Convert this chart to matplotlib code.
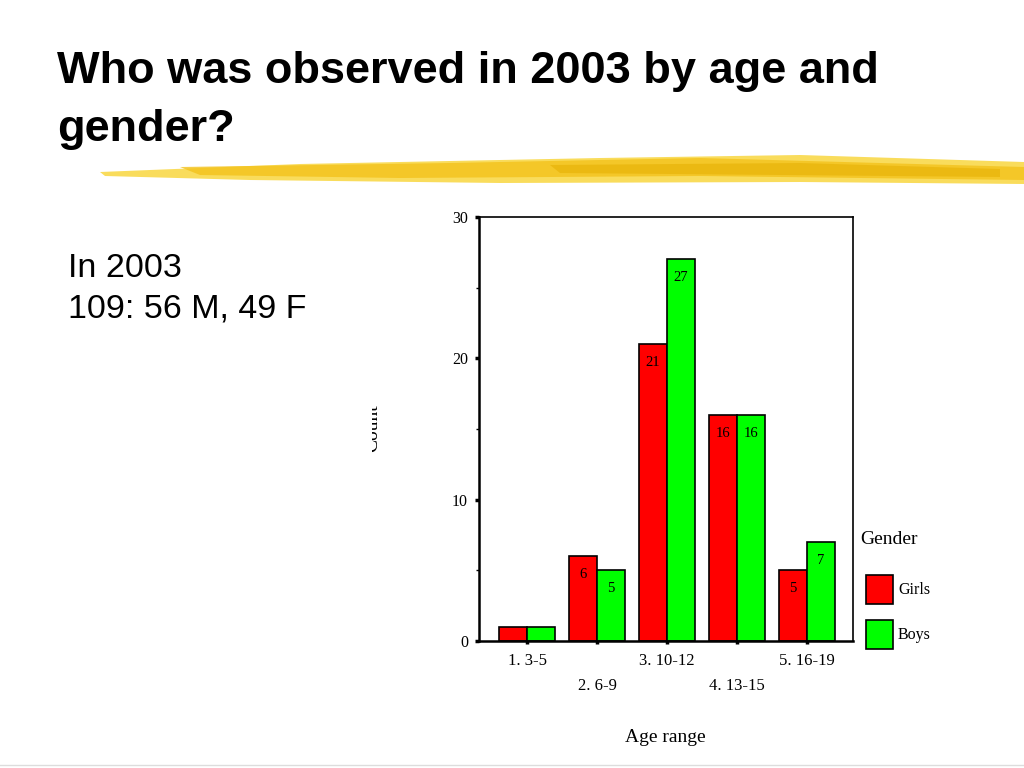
import numpy as np
import matplotlib.pyplot as plt
from matplotlib.patches import Polygon, Rectangle

# Datos del gráfico
age_ranges = ['1. 3-5', '2. 6-9', '3. 10-12', '4. 13-15', '5. 16-19']
girls = [1, 6, 21, 16, 5]
boys = [1, 5, 27, 16, 7]
series_names = ['Girls', 'Boys']
colors = ['#ff0000', '#00ff00']

serif = ['Liberation Serif', 'DejaVu Serif']
sans = ['Liberation Sans', 'DejaVu Sans']

fig = plt.figure(figsize=(10.24, 7.68), dpi=100)

# Título de la diapositiva
fig.text(57 / 1024, 1 - 51 / 768, 'Who was observed in 2003 by age and\ngender?',
         family=sans, fontsize=32.5, fontweight='bold', va='top', ha='left',
         linespacing=1.53)

# Trazo amarillo decorativo bajo el título
ov = fig.add_axes([0, 0, 1, 1], zorder=-1)
ov.set_xlim(0, 1024)
ov.set_ylim(768, 0)
ov.axis('off')
strokes = [
    ([(100, 172), (300, 164), (600, 158), (800, 155), (1024, 162),
      (1024, 184), (800, 182), (500, 183), (250, 180), (105, 176)], '#f9d94a', 0.9),
    ([(180, 167), (450, 163), (700, 158), (1024, 167), (1024, 180),
      (700, 176), (400, 178), (200, 175)], '#f3c21c', 0.8),
    ([(550, 165), (800, 163), (1000, 169), (1000, 177), (780, 175), (560, 173)],
     '#e8b40a', 0.7),
]
for pts, c, a in strokes:
    ov.add_patch(Polygon(pts, closed=True, facecolor=c, edgecolor='none', alpha=a))
ov.plot([0, 1024], [765, 765], color='#dddddd', lw=1)

# Etiqueta del eje Y, cortada como en la diapositiva
ov.text(373, 428, 'Count', family=serif, fontsize=14, rotation=90,
        ha='center', va='center')

# Texto descriptivo
fig.text(68 / 1024, 1 - 289 / 768, 'In 2003\n109: 56 M, 49 F', family=sans,
         fontsize=24.5, va='center', ha='left', linespacing=1.4)

# Gráfico de barras
ax = fig.add_axes([479 / 1024, 1 - 641 / 768, 374 / 1024, 424 / 768])
x = np.arange(len(age_ranges))
w = 0.4
for i, (vals, c) in enumerate(zip([girls, boys], colors)):
    pos = x - w / 2 + i * w
    ax.bar(pos, vals, width=w, color=c, edgecolor='black', linewidth=1.2,
           label=series_names[i])
    for p, v in zip(pos, vals):
        if v > 2:
            ax.text(p, v - 1.3, str(v), ha='center', va='center',
                    family=serif, fontsize=10.5)

ax.set_xlim(-0.686, 4.657)
ax.set_ylim(0, 30)
ax.set_yticks([0, 10, 20, 30])
ax.set_yticks([5, 15, 25], minor=True)
ax.set_yticklabels(['0', '10', '20', '30'], family=serif, fontsize=11.5)
ax.tick_params(axis='y', which='major', direction='out', length=3, width=2.5, pad=5)
ax.tick_params(axis='y', which='minor', direction='out', length=2, width=1)
ax.set_xticks(x)
labels = [('\n' if i % 2 else '') + lab for i, lab in enumerate(age_ranges)]
ax.set_xticklabels(labels, family=serif, fontsize=12, va='top', linespacing=1.75)
ax.tick_params(axis='x', direction='out', length=2.5, width=2.5, pad=6)
for s in ax.spines.values():
    s.set_linewidth(1.2)
ax.spines['left'].set_linewidth(1.8)
ax.spines['bottom'].set_linewidth(1.8)

fig.text(665 / 1024, 1 - 738 / 768, 'Age range', family=serif, fontsize=14,
         ha='center', va='center')

# Leyenda
fig.text(860 / 1024, 1 - 539 / 768, 'Gender', family=serif, fontsize=14,
         ha='left', va='center')
leg = fig.add_axes([0, 0, 1, 1], zorder=3)
leg.set_xlim(0, 1024)
leg.set_ylim(768, 0)
leg.axis('off')
# tapa la parte izquierda de "Count"
leg.add_patch(Rectangle((340, 380), 32, 100, facecolor='white', edgecolor='none'))
for i, (name, c) in enumerate(zip(series_names, colors)):
    y0 = 575 + i * 45
    leg.add_patch(Rectangle((866, y0), 27, 29, facecolor=c, edgecolor='black', lw=1.2))
    leg.text(898, y0 + 15, name, family=serif, fontsize=11.5, va='center', ha='left')

fig.savefig('out.png', dpi=100)
